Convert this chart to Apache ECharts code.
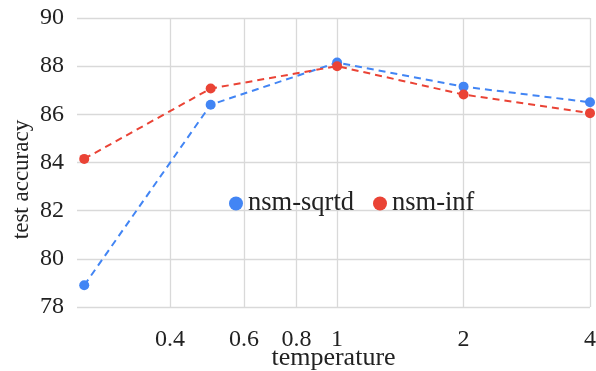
<!DOCTYPE html>
<html>
<head>
<meta charset="utf-8">
<script src="https://cdn.jsdelivr.net/npm/echarts@6/dist/echarts.min.js"></script>
<style>
  html, body { margin: 0; padding: 0; background: #fff; }
  #chart { width: 596px; height: 371px; }
</style>
</head>
<body>
<div id="chart"></div>
<script>
const temperatures = [0.25, 0.5, 1, 2, 4]
const nsmSqrtd = [78.9, 86.4, 88.15, 87.15, 86.5]
const nsmInf = [84.15, 87.07, 88.0, 86.82, 86.05]
const xTicks = [0.4, 0.6, 0.8, 1, 2, 4]

const font = 'Liberation Serif'
const chart = echarts.init(document.getElementById('chart'))

function pairs(vals) {
  return temperatures.map((t, i) => [t, vals[i]])
}

chart.setOption({
  animation: false,
  textStyle: { fontFamily: font },
  grid: { left: 77, right: 6, top: 18, bottom: 64, containLabel: false, outerBoundsMode: 'none' },
  legend: {
    left: 224,
    top: 185,
    icon: 'circle',
    itemWidth: 14,
    itemHeight: 14,
    itemGap: 19,
    textStyle: { fontFamily: font, fontSize: 26.5, color: '#222' },
    data: ['nsm-sqrtd', 'nsm-inf']
  },
  xAxis: {
    type: 'log',
    logBase: 2,
    min: 0.2403,
    max: 4,
    name: 'temperature',
    nameLocation: 'middle',
    nameGap: 38,
    nameMoveOverlap: false,
    nameTextStyle: { fontFamily: font, fontSize: 26, color: '#222' },
    axisLine: { show: false },
    axisTick: { show: false, customValues: xTicks },
    axisLabel: {
      customValues: xTicks,
      margin: 21,
      fontFamily: font,
      fontSize: 24,
      color: '#222',
      formatter: v => String(+(+v).toFixed(2))
    },
    splitLine: { show: true, lineStyle: { color: '#d9d9d9', width: 1.3 } }
  },
  yAxis: {
    type: 'value',
    min: 78,
    max: 90,
    interval: 2,
    name: 'test accuracy',
    nameLocation: 'middle',
    nameGap: 44,
    nameMoveOverlap: false,
    nameTextStyle: { fontFamily: font, fontSize: 23, color: '#222', padding: [0, 34, 0, 0] },
    axisLine: { show: false },
    axisTick: { show: false },
    axisLabel: { margin: 13, fontFamily: font, fontSize: 24, color: '#222' },
    splitLine: { lineStyle: { color: '#d9d9d9', width: 1.3 } }
  },
  series: [
    {
      name: 'nsm-sqrtd',
      type: 'line',
      data: pairs(nsmSqrtd),
      symbol: 'circle',
      symbolSize: 10,
      color: '#4285f4',
      lineStyle: { type: [7, 5], width: 2 }
    },
    {
      name: 'nsm-inf',
      type: 'line',
      data: pairs(nsmInf),
      symbol: 'circle',
      symbolSize: 10,
      color: '#ea4335',
      lineStyle: { type: [7, 5], width: 2 }
    }
  ]
})
</script>
</body>
</html>
